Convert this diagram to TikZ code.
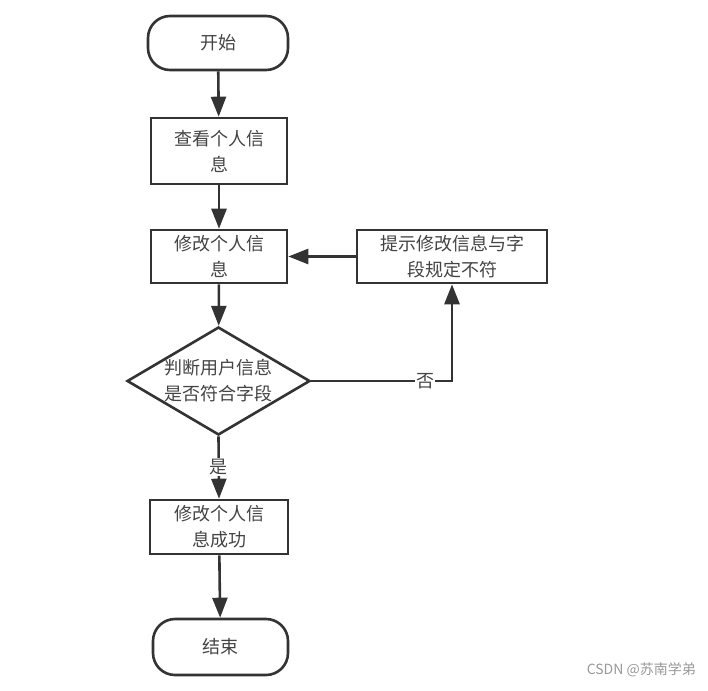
\documentclass[tikz,border=0pt]{standalone}
\usepackage{fontspec}
\setmainfont{Noto Sans CJK SC}
\usetikzlibrary{arrows.meta,shapes.geometric}
\definecolor{ln}{HTML}{333333}
\definecolor{tx}{HTML}{444444}
\begin{document}
\begin{tikzpicture}[x=1pt,y=-1pt,
  base/.style={draw=ln,line width=2.6pt,text=tx,font=\fontsize{18}{26}\selectfont,align=center,inner sep=0pt},
  term/.style={base,rounded corners=22pt,minimum width=140pt,minimum height=54pt},
  proc/.style={base,minimum width=136pt,minimum height=54pt},
  dec/.style={base,diamond,aspect=1.7,minimum width=183pt,minimum height=108pt},
  conn/.style={draw=ln,line width=2.6pt,-{Triangle[length=20pt,width=15pt]}},
  lab/.style={fill=white,text=tx,font=\fontsize{18}{20}\selectfont,inner sep=1pt}]
\useasboundingbox (0,0) rectangle (708,690);
\fill[white] (0,0) rectangle (708,690);
\node[term] (start) at (218,43) {开始};
\node[proc,minimum height=66pt] (view) at (219,151) {查看个人信\\息};
\node[proc,minimum height=53pt] (edit) at (219,256.5) {修改个人信\\息};
\node[proc,minimum width=190pt,minimum height=53pt] (tip) at (452,256.5) {提示修改信息与字\\段规定不符};
\node[dec] (chk) at (218.5,381) {判断用户信息\\是否符合字段};
\node[proc,minimum width=138pt] (ok) at (219,527) {修改个人信\\息成功};
\node[term,minimum width=135pt,minimum height=56pt] (end) at (220.5,647) {结束};
\coordinate (corner) at (452,381);
\draw[conn] (start) -- (view);
\draw[conn] (view) -- (edit);
\draw[conn] (tip) -- (edit);
\draw[conn] (edit) -- (chk);
\draw[conn] (chk.east) -- (corner) -- (tip.south);
\node[lab] (no) at (425,381) {否};
\draw[conn] (chk.south) -- (ok.north);
\node[lab] (yes) at (218.5,467) {是};
\draw[conn] (ok) -- (end);
\node[text=black!40,font=\fontsize{14}{16}\selectfont,anchor=east,inner sep=0pt] (wm) at (696,670) {CSDN @苏南学弟};
\end{tikzpicture}
\end{document}
